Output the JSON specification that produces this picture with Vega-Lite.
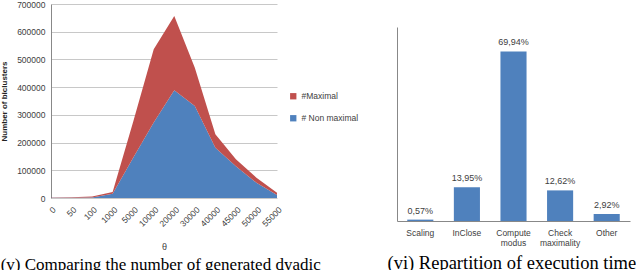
{
  "$schema": "https://vega.github.io/schema/vega-lite/v6.json",
  "padding": 0,
  "spacing": 66,
  "config": {
    "view": {"stroke": null},
    "font": "Liberation Sans",
    "axis": {"labelColor": "#404040", "labelFontSize": 8.5, "ticks": false, "domainColor": "#888888"}
  },
  "hconcat": [
    {
      "width": 226,
      "height": 194,
      "title": {"text": "(v) Comparing the number of generated dyadic", "orient": "bottom", "anchor": "start", "frame": "bounds", "font": "Liberation Serif", "fontSize": 17, "fontWeight": "normal", "color": "#000000", "offset": 5},
      "data": {"values": [
        {"theta": 0, "series": "# Non maximal", "count": 500},
        {"theta": 50, "series": "# Non maximal", "count": 800},
        {"theta": 100, "series": "# Non maximal", "count": 2000},
        {"theta": 1000, "series": "# Non maximal", "count": 15000},
        {"theta": 5000, "series": "# Non maximal", "count": 145000},
        {"theta": 10000, "series": "# Non maximal", "count": 272000},
        {"theta": 20000, "series": "# Non maximal", "count": 389000},
        {"theta": 30000, "series": "# Non maximal", "count": 332000},
        {"theta": 40000, "series": "# Non maximal", "count": 181000},
        {"theta": 45000, "series": "# Non maximal", "count": 115000},
        {"theta": 50000, "series": "# Non maximal", "count": 55000},
        {"theta": 55000, "series": "# Non maximal", "count": 11000},
        {"theta": 0, "series": "#Maximal", "count": 1500},
        {"theta": 50, "series": "#Maximal", "count": 1500},
        {"theta": 100, "series": "#Maximal", "count": 3000},
        {"theta": 1000, "series": "#Maximal", "count": 7000},
        {"theta": 5000, "series": "#Maximal", "count": 130000},
        {"theta": 10000, "series": "#Maximal", "count": 265000},
        {"theta": 20000, "series": "#Maximal", "count": 268000},
        {"theta": 30000, "series": "#Maximal", "count": 138000},
        {"theta": 40000, "series": "#Maximal", "count": 49000},
        {"theta": 45000, "series": "#Maximal", "count": 25000},
        {"theta": 50000, "series": "#Maximal", "count": 18000},
        {"theta": 55000, "series": "#Maximal", "count": 8000}
      ]},
      "mark": {"type": "area", "line": false},
      "encoding": {
        "x": {"field": "theta", "type": "ordinal", "sort": "ascending", "scale": {"type": "point", "padding": 0},
              "axis": {"title": "θ", "titleFontSize": 9, "titleFontWeight": "normal", "titleColor": "#404040", "titlePadding": 15, "labelAngle": -45, "labelPadding": 7, "domain": false, "grid": false}},
        "y": {"field": "count", "type": "quantitative", "stack": "zero", "scale": {"domain": [0, 700000], "nice": false},
              "axis": {"title": "Number of biclusters", "titleFontSize": 8, "titleFontWeight": "bold", "titleColor": "#222222", "titlePadding": 8, "values": [0,100000,200000,300000,400000,500000,600000,700000], "format": "d", "labelOverlap": false, "labelPadding": 6, "grid": true, "gridColor": "#c8c8c8", "domain": true}},
        "color": {"field": "series", "type": "nominal", "scale": {"domain": ["#Maximal", "# Non maximal"], "range": ["#C0504D", "#4F81BD"]},
                  "legend": {"title": null, "orient": "none", "legendX": 238, "legendY": 88, "symbolType": "square", "symbolSize": 40, "labelFontSize": 8.5, "labelColor": "#404040", "rowPadding": 13, "symbolStrokeWidth": 0}},
        "order": {"field": "series", "sort": "ascending"}
      }
    },
    {
      "width": 233,
      "height": 217,
      "data": {"values": [
        {"step": "Scaling", "share": 0.57, "label": "0,57%"},
        {"step": "InClose", "share": 13.95, "label": "13,95%"},
        {"step": "Compute modus", "share": 69.94, "label": "69,94%"},
        {"step": "Check maximality", "share": 12.62, "label": "12,62%"},
        {"step": "Other", "share": 2.92, "label": "2,92%"}
      ]},
      "encoding": {
        "x": {"field": "step", "type": "nominal", "sort": null, "scale": {"paddingInner": 0.44, "paddingOuter": 0.22},
              "axis": {"title": "(vi) Repartition of execution time", "titleFont": "Liberation Serif", "titleFontSize": 18.5, "titleFontWeight": "normal", "titleColor": "#000000", "titleAnchor": "start", "titleAlign": "left", "titleX": -10, "titlePadding": 7, "labelAngle": 0, "labelPadding": 7, "labelExpr": "split(datum.label, ' ')", "labelLineHeight": 10, "grid": false}},
        "y": {"field": "share", "type": "quantitative", "scale": {"domain": [0, 80], "nice": false, "range": [217, 23]},
              "axis": {"title": null, "labels": false, "grid": false, "domain": true}}
      },
      "layer": [
        {"mark": {"type": "bar", "color": "#4F81BD"}},
        {"mark": {"type": "text", "dy": -9, "fontSize": 9, "color": "#404040"}, "encoding": {"text": {"field": "label"}}}
      ]
    }
  ]
}
